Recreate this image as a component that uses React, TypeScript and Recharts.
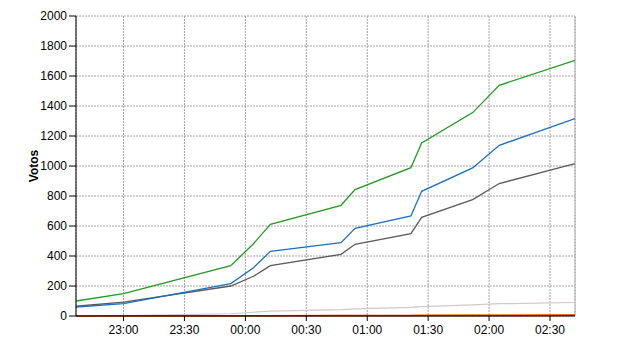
import React from 'react';
import { LineChart, Line, XAxis, YAxis, CartesianGrid, ReferenceLine } from 'recharts';

// minutes since 22:00
const times = [36.6, 60, 112.8, 124, 132.3, 167.1, 174, 201.5, 206.8, 231.9, 245, 282.3];
const green = [100, 149, 335, 482, 611, 738, 843, 989, 1153, 1356, 1538, 1705];
const blue = [60, 83, 216, 322, 431, 489, 585, 667, 831, 987, 1138, 1316];
const gray = [65, 93, 200, 265, 336, 411, 478, 549, 658, 776, 883, 1016];
const light = [0, 3, 15, 25, 33, 42, 48, 57, 63, 74, 82, 90];
const red = [0, 1, 1, 2, 2, 3, 3, 3, 4, 4, 4, 5];
const orange = [0, 0, 0, 1, 1, 2, 2, 3, 5, 6, 7, 8];

const xTicks = [60, 90, 120, 150, 180, 210, 240, 270];
const yTicks = [0, 200, 400, 600, 800, 1000, 1200, 1400, 1600, 1800, 2000];

const data = times.map((t, i) => ({
  t,
  green: green[i],
  blue: blue[i],
  gray: gray[i],
  light: light[i],
  red: red[i],
  orange: orange[i],
}));

const fmt = (m: number) => {
  const total = (22 * 60 + m) % (24 * 60);
  const h = Math.floor(total / 60);
  const mm = Math.round(total % 60);
  return `${String(h).padStart(2, '0')}:${String(mm).padStart(2, '0')}`;
};

const tickStyle = { fill: '#000', fontSize: 12, fontFamily: 'Liberation Sans, Arial, sans-serif' };

export default function App() {
  return (
    <div style={{ position: 'absolute', left: 0, top: 0, background: '#fff' }}>
      <LineChart width={640} height={350} data={data} margin={{ top: 16, right: 65, bottom: 0, left: 0 }}>
        <CartesianGrid stroke="#a8a0a8" strokeDasharray="2 1" />
        <ReferenceLine x={282.3} stroke="#a8a0a8" strokeDasharray="2 1" />
        <XAxis
          dataKey="t"
          type="number"
          domain={[36.6, 282.3]}
          ticks={xTicks}
          tickFormatter={fmt}
          tick={tickStyle}
          tickSize={5}
          tickMargin={4}
          height={34}
          stroke="#000"
          allowDataOverflow
        />
        <YAxis
          domain={[0, 2000]}
          ticks={yTicks}
          tick={tickStyle}
          tickSize={7}
          tickMargin={2}
          width={76}
          stroke="#000"
          label={{
            value: 'Votos',
            angle: -90,
            position: 'insideLeft',
            offset: 34,
            style: { fontWeight: 'bold', fontSize: 12, fill: '#000', fontFamily: 'Liberation Sans, Arial, sans-serif', textAnchor: 'middle' },
          }}
        />
        <Line dataKey="light" stroke="#d0c8cc" strokeWidth={1.2} dot={false} isAnimationActive={false} />
        <Line dataKey="gray" stroke="#5a5a5a" strokeWidth={1.3} dot={false} isAnimationActive={false} />
        <Line dataKey="blue" stroke="#1a70c0" strokeWidth={1.3} dot={false} isAnimationActive={false} />
        <Line dataKey="green" stroke="#229a22" strokeWidth={1.3} dot={false} isAnimationActive={false} />
        <Line dataKey="orange" stroke="#f5a020" strokeWidth={1.5} dot={false} isAnimationActive={false} />
        <Line dataKey="red" stroke="#d83010" strokeWidth={1.5} dot={false} isAnimationActive={false} />
      </LineChart>
    </div>
  );
}
